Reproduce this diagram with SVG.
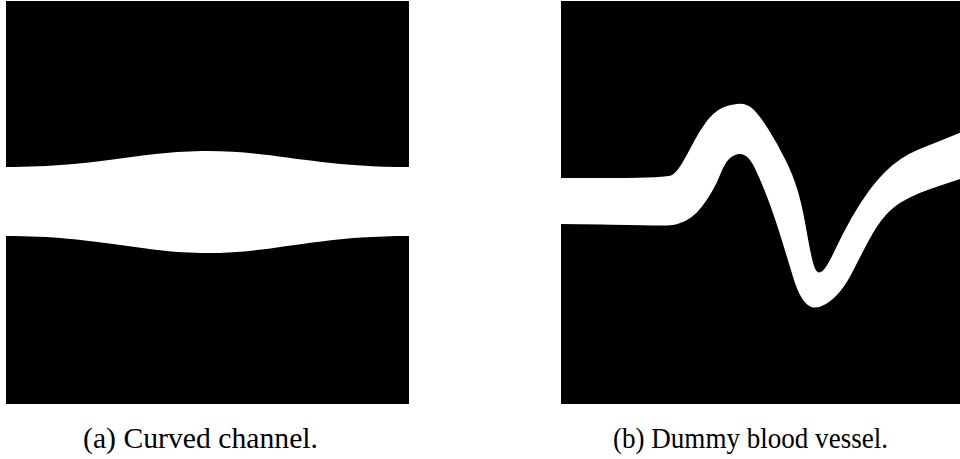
<svg xmlns="http://www.w3.org/2000/svg" width="960" height="459" viewBox="0 0 960 459">
  <style>
    .field { fill: #000000; }
    .flow { fill: #ffffff; }
    .caption { font-family: "Liberation Serif", "DejaVu Serif", serif; font-size: 29.5px; fill: #000000; }
  </style>
  <defs>
    <clipPath id="clip-b">
      <rect x="561" y="1" width="399" height="403"/>
    </clipPath>
  </defs>
  <rect x="0" y="0" width="960" height="459" fill="#ffffff"/>

  <!-- (a) straight channel with a smooth symmetric bulge -->
  <g id="panel-a">
    <rect class="field" x="6" y="1" width="403" height="403"/>
    <path class="flow" d="M6,167 C100,167 140,151 207.5,151 C275,151 315,167 409,167 L409,236 C315,236 275,253 207.5,253 C140,253 100,236 6,236 Z"/>
  </g>

  <!-- (b) winding vessel lumen -->
  <g id="panel-b">
    <rect class="field" x="561" y="1" width="399" height="403"/>
    <path class="flow" clip-path="url(#clip-b)" d="M561,178 L614,178 Q667,178 672,175 Q677,172 682.5,162.5 Q688,153 694,141.5 Q700,130 706.5,121.5 Q713,113 720,109 Q727,105 737,104 Q747,103 753.5,109.5 Q760,116 768.5,129.5 Q777,143 785,159 Q793,175 797.5,190 Q802,205 805.5,225 Q809,245 811.5,256.5 Q814,268 816.5,271 Q819,274 823,270.5 Q827,267 835,250 Q843,233 851.5,218 Q860,203 868.5,191.5 Q877,180 885,172 Q893,164 901.5,158.5 Q910,153 918.5,149.5 Q927,146 943.5,139.5 L962,132 L962,179 L960,179 L943.5,184.5 Q927,190 918.5,193.5 Q910,197 901.5,202 Q893,207 885,216 Q877,225 868.5,241 Q860,257 853.5,270 Q847,283 840,291.5 Q833,300 825,304.5 Q817,309 811.5,307 Q806,305 801.5,297.5 Q797,290 793.5,278.5 Q790,267 785,250.5 Q780,234 775,219 Q770,204 765,191.5 Q760,179 755,168.5 Q750,158 745,155.5 Q740,153 735,155 Q730,157 726.5,162 Q723,167 720,175 Q717,183 712,191.5 Q707,200 702,206.5 Q697,213 691,217.5 Q685,222 677.5,224 Q670,226 656.5,225.5 Q643,225 602,224.5 L561,224 Z"/>
  </g>

  <g id="captions">
    <text class="caption" x="83" y="448" textLength="235" lengthAdjust="spacingAndGlyphs">(a) Curved channel.</text>
    <text class="caption" x="613" y="448" textLength="275" lengthAdjust="spacingAndGlyphs">(b) Dummy blood vessel.</text>
  </g>
</svg>
